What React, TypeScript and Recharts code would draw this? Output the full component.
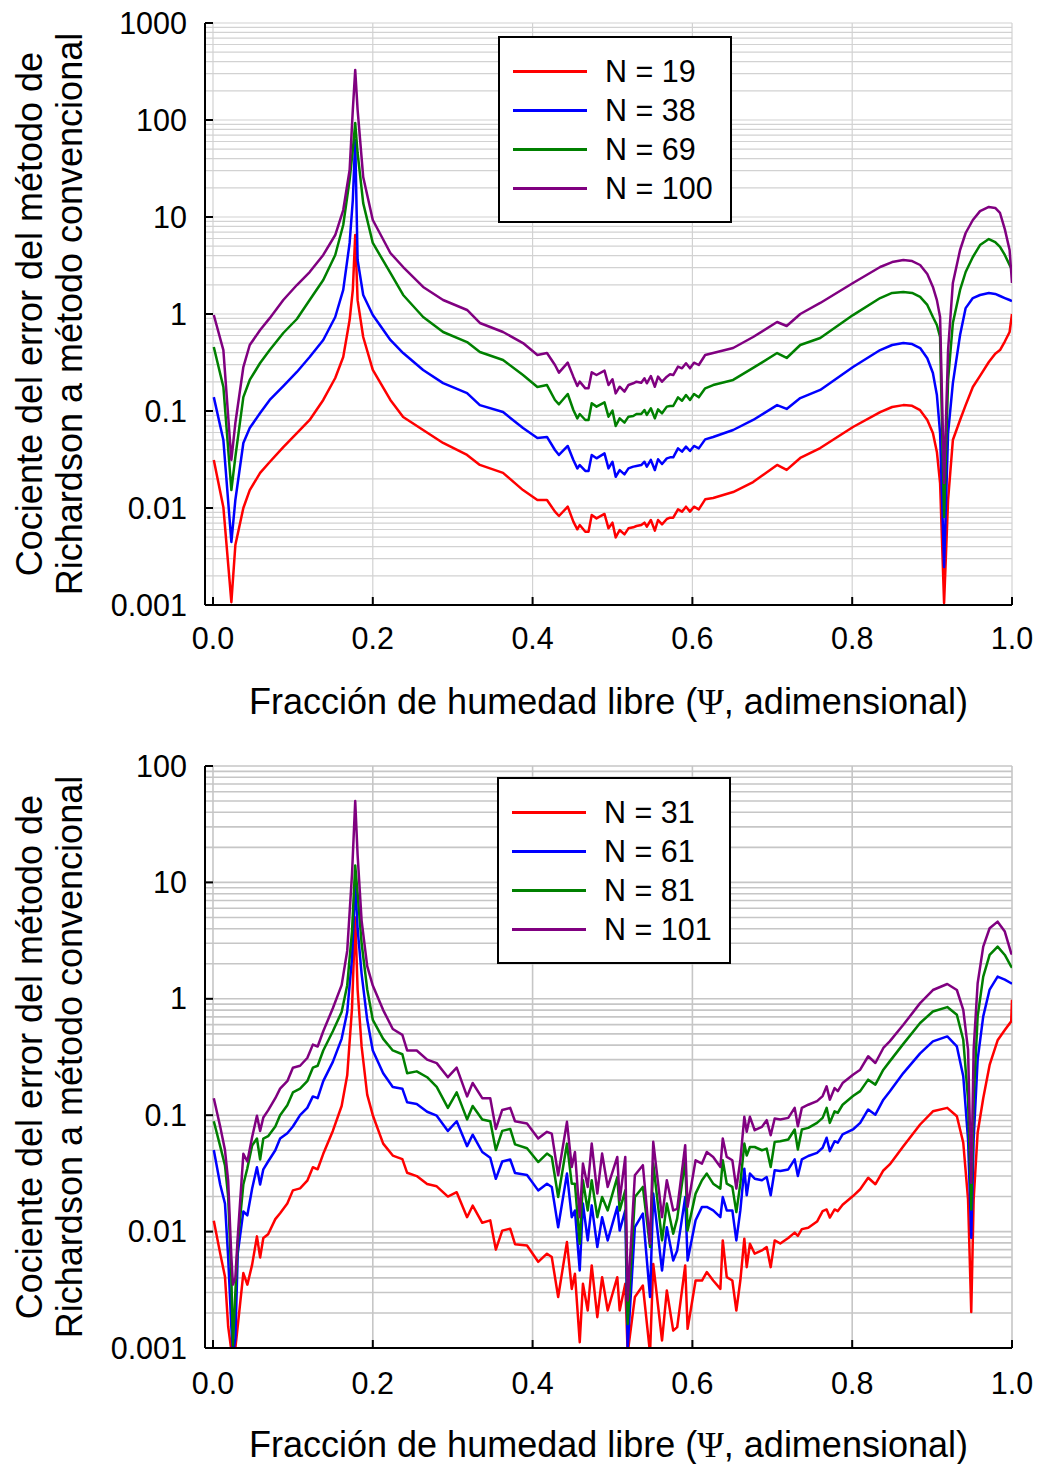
import React from 'react';
import { LineChart, Line, XAxis, YAxis, CartesianGrid, Legend, Label } from 'recharts';

const FONT = '"Liberation Sans", Arial, Helvetica, sans-serif';

// ---------- Top panel data ----------
const xTop = [
  0.001, 0.013, 0.023, 0.028, 0.038, 0.046, 0.059, 0.071,
  0.088, 0.105, 0.121, 0.138, 0.153, 0.163, 0.171, 0.175,
  0.178, 0.181, 0.188, 0.200, 0.222, 0.238, 0.263, 0.288,
  0.318, 0.334, 0.363, 0.388, 0.406, 0.418,
  0.428, 0.433, 0.444, 0.451, 0.456, 0.459, 0.466, 0.470,
  0.474, 0.480, 0.490, 0.495, 0.500, 0.504, 0.509, 0.515,
  0.520, 0.526, 0.530, 0.536, 0.540, 0.543, 0.548, 0.553,
  0.557, 0.562, 0.568, 0.572, 0.576, 0.582, 0.587, 0.592,
  0.597, 0.602, 0.608, 0.616,
  0.626, 0.651, 0.676, 0.706, 0.718, 0.735, 0.760, 0.801,
  0.835, 0.850, 0.864, 0.875, 0.885, 0.894, 0.901, 0.906,
  0.910, 0.915, 0.920, 0.926, 0.935, 0.942, 0.951, 0.960,
  0.971, 0.979, 0.985, 0.991, 0.997, 1.000,
];
const top19 = [
  0.0313, 0.0102, 0.00107, 0.00415, 0.01, 0.0153, 0.023, 0.0298,
  0.0425, 0.0593, 0.0808, 0.13, 0.219, 0.36, 0.867, 1.77,
  6.52, 1.39, 0.579, 0.265, 0.13, 0.0867, 0.0637, 0.0468,
  0.0352, 0.0278, 0.023, 0.0153, 0.0121, 0.0121,
  0.00917, 0.00827, 0.01032, 0.00723, 0.00603, 0.00668, 0.0057, 0.0057,
  0.00847, 0.00782, 0.00868, 0.00617, 0.00706, 0.00498, 0.00593, 0.00535,
  0.00617, 0.00632, 0.00652, 0.00668, 0.00706, 0.00642, 0.00752, 0.00584,
  0.00752, 0.00679, 0.0077, 0.00795, 0.00795, 0.00969, 0.00917, 0.01032,
  0.00917, 0.01032, 0.00969, 0.01229,
  0.0127, 0.0146, 0.0185, 0.0278, 0.0247, 0.0328, 0.0415, 0.0684,
  0.0975, 0.11, 0.115, 0.113, 0.102, 0.0808, 0.0593, 0.0378,
  0.0181, 0.00105, 0.0121, 0.0502, 0.0808, 0.115, 0.177, 0.23,
  0.32, 0.39, 0.425, 0.52, 0.652, 1.0,
];
const top38 = [
  0.139, 0.0502, 0.00446, 0.0121, 0.0468, 0.0668, 0.0953, 0.13,
  0.181, 0.2525, 0.36, 0.54, 0.931, 1.77, 5.4, 14.97,
  62.2, 3.6, 1.57, 0.975, 0.54, 0.396, 0.265, 0.194,
  0.153, 0.115, 0.0975, 0.0668, 0.0527, 0.054,
  0.0396, 0.0352, 0.0436, 0.0313, 0.0256, 0.0277, 0.0241, 0.0241,
  0.0352, 0.0325, 0.0366, 0.0256, 0.030, 0.021, 0.0246, 0.0222,
  0.0256, 0.0267, 0.0271, 0.0277, 0.030, 0.0267, 0.0313, 0.0246,
  0.0318, 0.0284, 0.0325, 0.0333, 0.0333, 0.0412, 0.0381, 0.0429,
  0.0387, 0.0436, 0.0412, 0.051,
  0.054, 0.0637, 0.0808, 0.115, 0.105, 0.136, 0.165, 0.284,
  0.425, 0.479, 0.502, 0.49, 0.446, 0.35, 0.2465, 0.146,
  0.0593, 0.00247, 0.0593, 0.194, 0.607, 1.15, 1.46, 1.57,
  1.646, 1.61, 1.533, 1.46, 1.394, 1.36,
];
const top69 = [
  0.457, 0.177, 0.0153, 0.0336, 0.139, 0.209, 0.3125, 0.425,
  0.637, 0.888, 1.394, 2.24, 4.06, 8.27, 24.1, 49.1,
  93.1, 45.7, 13.9, 5.4, 2.65, 1.57, 0.931, 0.652,
  0.514, 0.406, 0.336, 0.235, 0.177, 0.185,
  0.1299, 0.1172, 0.1497, 0.1024, 0.084, 0.0931, 0.0808, 0.0808,
  0.12, 0.1109, 0.1229, 0.0874, 0.1008, 0.07, 0.084, 0.0758,
  0.0874, 0.0888, 0.0931, 0.0931, 0.1024, 0.091, 0.1066, 0.084,
  0.104, 0.0946, 0.1109, 0.1126, 0.1126, 0.1383, 0.1278, 0.1462,
  0.1299, 0.1497, 0.1383, 0.1713,
  0.185, 0.209, 0.278, 0.396, 0.352, 0.479, 0.565, 0.975,
  1.46, 1.65, 1.69, 1.65, 1.5, 1.24, 0.931, 0.77,
  0.579, 0.00808, 0.209, 0.808, 1.77, 2.71, 3.87, 5.14,
  5.93, 5.51, 4.91, 4.06, 3.2, 2.84,
];
const top100 = [
  0.977, 0.425, 0.0313, 0.0752, 0.284, 0.479, 0.684, 0.906,
  1.394, 1.99, 2.71, 4.06, 6.52, 11.8, 30.5, 127,
  328, 127, 25.8, 9.31, 4.255, 3.05, 1.9, 1.394,
  1.1, 0.808, 0.652, 0.502, 0.378, 0.396,
  0.298, 0.2484, 0.315, 0.226, 0.181, 0.2006, 0.1713, 0.1713,
  0.2504, 0.235, 0.2604, 0.1854, 0.2121, 0.152, 0.178, 0.1582,
  0.1854, 0.193, 0.2006, 0.196, 0.2172, 0.193, 0.2296, 0.178,
  0.226, 0.2006, 0.226, 0.2388, 0.235, 0.2866, 0.2754, 0.31,
  0.2754, 0.315, 0.298, 0.378,
  0.396, 0.446, 0.579, 0.827, 0.752, 1.0, 1.3, 2.09,
  3.05, 3.43, 3.6, 3.51, 3.2, 2.58, 1.9, 1.39,
  0.931, 0.0181, 0.425, 2.09, 4.57, 6.84, 9.31, 11.5,
  12.7, 12.4, 11.0, 7.5, 4.57, 2.09,
];

// ---------- Bottom panel data ----------
const xBottom = [
  0.001, 0.009, 0.015, 0.019, 0.023, 0.025, 0.028, 0.031,
  0.038, 0.043, 0.049, 0.055, 0.059, 0.063, 0.069, 0.078,
  0.084, 0.093, 0.100, 0.109, 0.118, 0.125, 0.131, 0.138,
  0.150, 0.161, 0.168, 0.174, 0.178, 0.181, 0.186, 0.193,
  0.200, 0.213, 0.225, 0.237, 0.243, 0.255, 0.268, 0.280,
  0.294, 0.305, 0.318, 0.325, 0.337, 0.347, 0.354, 0.362,
  0.372, 0.378, 0.393, 0.407, 0.418, 0.424, 0.432, 0.443,
  0.449, 0.453, 0.459, 0.463, 0.469, 0.474, 0.481, 0.487,
  0.494, 0.506, 0.509, 0.516, 0.519, 0.528, 0.538, 0.547,
  0.551, 0.562, 0.568, 0.576, 0.581, 0.591, 0.594, 0.604,
  0.612, 0.618, 0.626, 0.635, 0.638, 0.643, 0.650, 0.655,
  0.660, 0.665, 0.668, 0.672, 0.678, 0.687, 0.693, 0.698,
  0.703, 0.710, 0.720, 0.728, 0.732, 0.737, 0.745, 0.756,
  0.763, 0.768, 0.772, 0.778, 0.782, 0.788, 0.801, 0.810,
  0.820, 0.829, 0.839, 0.847, 0.864, 0.885, 0.901, 0.919,
  0.931, 0.939, 0.945, 0.949, 0.952, 0.957, 0.964, 0.972,
  0.982, 0.991, 0.999, 1.000,
];
const bot31 = [
  0.0124, 0.0065, 0.0041, 0.00153, 0.00095, 0.0009, 0.001, 0.00155,
  0.0044, 0.0035, 0.0052, 0.0091, 0.006, 0.0088, 0.0095, 0.0128,
  0.0144, 0.0174, 0.0226, 0.0235, 0.0274, 0.0357, 0.0343, 0.0466,
  0.0733, 0.12, 0.22, 0.83, 5.0, 1.2, 0.39, 0.15,
  0.1, 0.057, 0.045, 0.042, 0.032, 0.03, 0.0256, 0.0245,
  0.02, 0.0218, 0.0133, 0.0167, 0.0119, 0.0125, 0.007, 0.0102,
  0.0106, 0.0078, 0.0076, 0.0055, 0.00646, 0.00604, 0.00274, 0.00813,
  0.00322, 0.00434, 0.00112, 0.00356, 0.0021, 0.00512, 0.00184, 0.00406,
  0.0021, 0.00406, 0.0021, 0.00356, 0.0009, 0.00274, 0.00344, 0.0009,
  0.00528, 0.00116, 0.00312, 0.00141, 0.00151, 0.00512, 0.00146, 0.0038,
  0.0038, 0.00449, 0.0038, 0.00322, 0.0084, 0.00406, 0.0038, 0.0021,
  0.0038, 0.00869, 0.00495, 0.00787, 0.00646, 0.00689, 0.00736, 0.00495,
  0.0084, 0.0079, 0.0088, 0.0098, 0.0092, 0.0105, 0.0108, 0.0122,
  0.015, 0.0155, 0.0132, 0.0155, 0.015, 0.017, 0.0202, 0.0231,
  0.029, 0.0255, 0.0335, 0.0378, 0.0542, 0.0832, 0.108, 0.1156,
  0.098, 0.058, 0.0189, 0.00204, 0.0189, 0.0706, 0.14, 0.27,
  0.44, 0.54, 0.64, 0.98,
];
const bot61 = [
  0.0502, 0.0254, 0.0174, 0.006, 0.0015, 0.0009, 0.0012, 0.0065,
  0.0149, 0.0138, 0.0235, 0.0357, 0.0254, 0.0343, 0.04, 0.05,
  0.063, 0.07, 0.08, 0.1, 0.1156, 0.145, 0.14, 0.196,
  0.287, 0.453, 0.77, 2.22, 10, 4.0, 1.64, 0.66,
  0.36, 0.229, 0.175, 0.169, 0.129, 0.125, 0.107, 0.099,
  0.0733, 0.0887, 0.0542, 0.068, 0.0483, 0.0431, 0.0284, 0.04,
  0.0416, 0.0319, 0.0307, 0.0226, 0.0258, 0.0242, 0.0109, 0.0315,
  0.0133, 0.0152, 0.00463, 0.0174, 0.0084, 0.0168, 0.00736, 0.0133,
  0.0084, 0.0163, 0.0102, 0.0152, 0.00101, 0.0109, 0.0143, 0.00274,
  0.0212, 0.00463, 0.0109, 0.00565, 0.00689, 0.0198, 0.00565, 0.0125,
  0.0163, 0.0163, 0.0152, 0.0133, 0.0198, 0.0152, 0.0152, 0.0084,
  0.0152, 0.0347, 0.0205, 0.0315, 0.0285, 0.0276, 0.0294, 0.0205,
  0.0337, 0.0331, 0.0342, 0.0417, 0.03, 0.0417, 0.0446, 0.0475,
  0.0525, 0.064, 0.0491, 0.0598, 0.058, 0.0683, 0.0754, 0.0859,
  0.112, 0.101, 0.136, 0.16, 0.23, 0.34, 0.431, 0.475,
  0.39, 0.216, 0.0618, 0.00886, 0.0618, 0.3, 0.706, 1.2,
  1.55, 1.46, 1.36, 1.35,
];
const bot81 = [
  0.0887, 0.0542, 0.037, 0.02, 0.004, 0.00105, 0.003, 0.008,
  0.0254, 0.035, 0.055, 0.063, 0.0416, 0.063, 0.066, 0.08,
  0.1, 0.122, 0.157, 0.169, 0.196, 0.256, 0.266, 0.36,
  0.526, 0.77, 1.31, 3.8, 14, 8.0, 3.0, 1.21,
  0.66, 0.453, 0.36, 0.334, 0.229, 0.238, 0.212, 0.175,
  0.1156, 0.157, 0.092, 0.12, 0.092, 0.0887, 0.0502, 0.0733,
  0.0762, 0.0562, 0.052, 0.0396, 0.0468, 0.0438, 0.0198, 0.057,
  0.0258, 0.0258, 0.00787, 0.0276, 0.0152, 0.0276, 0.0133, 0.0198,
  0.0152, 0.0294, 0.0152, 0.0226, 0.00161, 0.0198, 0.0242, 0.00736,
  0.0384, 0.0084, 0.0174, 0.0096, 0.013, 0.041, 0.0102, 0.0212,
  0.0276, 0.0315, 0.0258, 0.0234, 0.041, 0.0258, 0.0242, 0.0147,
  0.0258, 0.057, 0.045, 0.0533, 0.0533, 0.05, 0.0516, 0.0359,
  0.059, 0.0598, 0.0618, 0.0754, 0.0508, 0.0754, 0.0778, 0.0859,
  0.0948, 0.1156, 0.0859, 0.108, 0.105, 0.123, 0.146, 0.161,
  0.202, 0.183, 0.246, 0.29, 0.41, 0.62, 0.778, 0.849,
  0.729, 0.445, 0.136, 0.0155, 0.136, 0.706, 1.55, 2.38,
  2.81, 2.38, 1.89, 1.85,
];
const bot101 = [
  0.14, 0.08, 0.0502, 0.0274, 0.006, 0.0035, 0.004, 0.009,
  0.0466, 0.04, 0.065, 0.099, 0.0733, 0.0955, 0.11, 0.14,
  0.169, 0.196, 0.256, 0.266, 0.31, 0.404, 0.389, 0.526,
  0.83, 1.31, 2.59, 11.8, 50, 17.2, 4.7, 1.91,
  1.3, 0.8, 0.55, 0.49, 0.36, 0.36, 0.3, 0.28,
  0.212, 0.256, 0.145, 0.189, 0.14, 0.14, 0.0762, 0.111,
  0.1156, 0.0887, 0.085, 0.063, 0.072, 0.0695, 0.0305, 0.0877,
  0.0359, 0.0483, 0.0133, 0.0384, 0.0242, 0.057, 0.0212, 0.0468,
  0.0242, 0.0438, 0.0186, 0.0438, 0.00256, 0.0305, 0.0372, 0.00787,
  0.059, 0.0133, 0.0276, 0.0152, 0.0157, 0.0552, 0.0163, 0.041,
  0.0384, 0.0483, 0.0438, 0.0359, 0.063, 0.0438, 0.041, 0.0234,
  0.041, 0.0968, 0.072, 0.0968, 0.0743, 0.0794, 0.0906, 0.0673,
  0.0936, 0.0918, 0.0948, 0.1156, 0.0805, 0.1156, 0.123, 0.132,
  0.146, 0.177, 0.136, 0.171, 0.161, 0.189, 0.223, 0.246,
  0.321, 0.281, 0.378, 0.431, 0.598, 0.918, 1.19, 1.34,
  1.19, 0.805, 0.366, 0.0263, 0.366, 1.36, 2.81, 4.04,
  4.6, 3.78, 2.46, 2.4,
];

// ---------- Axis ticks ----------
const xTicks = [0, 0.2, 0.4, 0.6, 0.8, 1.0];
const topDecades = [0.001, 0.01, 0.1, 1, 10, 100, 1000];
const bottomDecades = [0.001, 0.01, 0.1, 1, 10, 100];
const minorMultipliers = [1, 2, 3, 4, 5, 6, 7, 8, 9];

const COLORS = ['#ff0000', '#0000ff', '#008000', '#800080'];

const topSeries = [
  { key: 's1', name: 'N = 19', values: top19 },
  { key: 's2', name: 'N = 38', values: top38 },
  { key: 's3', name: 'N = 69', values: top69 },
  { key: 's4', name: 'N = 100', values: top100 },
];
const bottomSeries = [
  { key: 's1', name: 'N = 31', values: bot31 },
  { key: 's2', name: 'N = 61', values: bot61 },
  { key: 's3', name: 'N = 81', values: bot81 },
  { key: 's4', name: 'N = 101', values: bot101 },
];

function withMinor(decades: number[]): number[] {
  const out: number[] = [];
  decades.forEach((d, i) => {
    if (i === decades.length - 1) {
      out.push(d);
      return;
    }
    minorMultipliers.forEach((m) => out.push(Number((m * d).toPrecision(3))));
  });
  return out;
}

function buildRows(xs: number[], series: { key: string; values: number[] }[]) {
  return xs.map((x, i) => {
    const row: Record<string, number> = { x };
    series.forEach((s) => {
      row[s.key] = s.values[i];
    });
    return row;
  });
}

const TICK_FS = 30.5;
const TITLE_FS = 36;

function makeLeftTick(decades: number[]) {
  return (props: any) => {
    const { x, y, payload } = props;
    if (!decades.includes(payload.value)) return <g />;
    return (
      <g>
        <line x1={x + 18} x2={x + 26} y1={y} y2={y} stroke="#000" strokeWidth={2} />
        <text x={x} y={y} dy={10.5} textAnchor="end" fontSize={TICK_FS} fontFamily={FONT} fill="#000">
          {String(payload.value)}
        </text>
      </g>
    );
  };
}

function makeRightTick(decades: number[]) {
  return (props: any) => {
    const { x, y, payload } = props;
    if (!decades.includes(payload.value)) return <g />;
    return <line x1={x - 8} x2={x} y1={y} y2={y} stroke="#000" strokeWidth={2} />;
  };
}

function makeBottomTick(labelDy: number) {
  return (props: any) => {
    const { x, y, payload } = props;
    return (
      <g>
        <line x1={x} x2={x} y1={y - 8} y2={y} stroke="#000" strokeWidth={2} />
        <text x={x} y={y + labelDy} textAnchor="middle" fontSize={TICK_FS} fontFamily={FONT} fill="#000">
          {Number(payload.value).toFixed(1)}
        </text>
      </g>
    );
  };
}

const topTick = (props: any) => {
  const { x, y } = props;
  return <line x1={x} x2={x} y1={y} y2={y + 8} stroke="#000" strokeWidth={2} />;
};

function makeXTitle(offset: number) {
  return (props: any) => {
    const vb = props.viewBox || { x: 205, y: 605, width: 807, height: 127 };
    const cx = vb.x + vb.width / 2;
    const y = vb.y + vb.height - offset;
    return (
      <text x={cx} y={y} textAnchor="middle" fontSize={TITLE_FS} fontFamily={FONT} fill="#000">
        Fracción de humedad libre (
        <tspan fontFamily='"Liberation Serif", "Times New Roman", serif'>Ψ</tspan>, adimensional)
      </text>
    );
  };
}

const yTitle = (props: any) => {
  const vb = props.viewBox || { x: 0, y: 23, width: 205, height: 582 };
  const cy = vb.y + vb.height / 2;
  return (
    <g>
      <text
        x={42}
        y={cy}
        transform={`rotate(-90, 42, ${cy})`}
        textAnchor="middle"
        fontSize={TITLE_FS}
        fontFamily={FONT}
        fill="#000"
      >
        Cociente del error del método de
      </text>
      <text
        x={82}
        y={cy}
        transform={`rotate(-90, 82, ${cy})`}
        textAnchor="middle"
        fontSize={TITLE_FS}
        fontFamily={FONT}
        fill="#000"
      >
        Richardson a método convencional
      </text>
    </g>
  );
};

function makeLegend(order: string[]) {
  return (props: any) => {
    const payload = [...(props.payload || [])].sort(
      (a: any, b: any) => order.indexOf(a.dataKey) - order.indexOf(b.dataKey)
    );
    return (
      <div
        style={{
          position: 'relative',
          width: 234,
          height: 187,
          boxSizing: 'border-box',
          border: '2px solid #000',
          background: '#fff',
        }}
      >
        {payload.map((entry: any, i: number) => {
          const cy = 33 + 39 * i;
          return (
            <React.Fragment key={entry.dataKey}>
              <div
                style={{
                  position: 'absolute',
                  left: 13,
                  top: cy - 1.5,
                  width: 74,
                  height: 3,
                  background: entry.color,
                }}
              />
              <div
                style={{
                  position: 'absolute',
                  left: 105,
                  top: cy - 18,
                  height: 36,
                  lineHeight: '36px',
                  fontSize: 30.5,
                  fontFamily: FONT,
                  color: '#000',
                  whiteSpace: 'nowrap',
                }}
              >
                {entry.value}
              </div>
            </React.Fragment>
          );
        })}
      </div>
    );
  };
}

type PanelProps = {
  xs: number[];
  series: { key: string; name: string; values: number[] }[];
  decades: number[];
  height: number;
  xAxisHeight: number;
  titleOffset: number;
  tickLabelDy: number;
  legendLeft: number;
  legendTop: number;
  gridStroke: string;
  gridWidth: number;
};

function Panel(p: PanelProps) {
  const rows = buildRows(p.xs, p.series);
  const yTicks = withMinor(p.decades);
  const yDomain = [p.decades[0], p.decades[p.decades.length - 1]];
  const xDomain = [-0.01, 1.0];
  return (
    <LineChart
      width={1039}
      height={p.height}
      data={rows}
      margin={{ top: 23, right: 27, bottom: 0, left: 0 }}
    >
      <CartesianGrid stroke={p.gridStroke} strokeWidth={p.gridWidth} />
      <XAxis
        dataKey="x"
        type="number"
        domain={xDomain}
        allowDataOverflow
        ticks={xTicks}
        interval={0}
        height={p.xAxisHeight}
        tickSize={0}
        tickMargin={0}
        tickLine={false}
        axisLine={{ stroke: '#000', strokeWidth: 2 }}
        tick={makeBottomTick(p.tickLabelDy)}
      >
        <Label content={makeXTitle(p.titleOffset)} />
      </XAxis>
      <XAxis
        xAxisId="top"
        orientation="top"
        dataKey="x"
        type="number"
        domain={xDomain}
        allowDataOverflow
        ticks={xTicks}
        interval={0}
        height={0}
        tickSize={0}
        tickMargin={0}
        tickLine={false}
        axisLine={{ stroke: '#000', strokeWidth: 2 }}
        tick={topTick}
      />
      <YAxis
        type="number"
        scale="log"
        domain={yDomain}
        allowDataOverflow
        ticks={yTicks}
        interval={0}
        width={205}
        tickSize={0}
        tickMargin={18}
        tickLine={false}
        axisLine={{ stroke: '#000', strokeWidth: 2 }}
        tick={makeLeftTick(p.decades)}
      >
        <Label content={yTitle} />
      </YAxis>
      <YAxis
        yAxisId="right"
        orientation="right"
        type="number"
        scale="log"
        domain={yDomain}
        allowDataOverflow
        ticks={p.decades}
        interval={0}
        width={0}
        tickSize={0}
        tickMargin={0}
        tickLine={false}
        axisLine={{ stroke: '#000', strokeWidth: 2 }}
        tick={makeRightTick(p.decades)}
      />
      {p.series.map((s, i) => (
        <Line
          key={s.key}
          type="linear"
          dataKey={s.key}
          name={s.name}
          stroke={COLORS[i]}
          strokeWidth={2.5}
          strokeLinejoin="round"
          dot={false}
          activeDot={false}
          isAnimationActive={false}
        />
      ))}
      <Legend
        layout="vertical"
        align="center"
        verticalAlign="middle"
        wrapperStyle={{ left: p.legendLeft, top: p.legendTop, width: 234, height: 187 }}
        content={makeLegend(p.series.map((s) => s.key))}
      />
    </LineChart>
  );
}

export default function App() {
  return (
    <div
      style={{
        position: 'absolute',
        left: 0,
        top: 0,
        width: 1039,
        height: 1464,
        background: '#fff',
        overflow: 'hidden',
      }}
    >
      <div style={{ position: 'absolute', left: 0, top: 0 }}>
        <Panel
          xs={xTop}
          series={topSeries}
          decades={topDecades}
          height={732}
          xAxisHeight={127}
          titleOffset={18}
          tickLabelDy={44}
          legendLeft={498}
          legendTop={36}
          gridStroke="#d2d2d2"
          gridWidth={1.2}
        />
      </div>
      <div style={{ position: 'absolute', left: 0, top: 743 }}>
        <Panel
          xs={xBottom}
          series={bottomSeries}
          decades={bottomDecades}
          height={721}
          xAxisHeight={116}
          titleOffset={7}
          tickLabelDy={46}
          legendLeft={497}
          legendTop={34}
          gridStroke="#c6c6c6"
          gridWidth={1.6}
        />
      </div>
    </div>
  );
}
